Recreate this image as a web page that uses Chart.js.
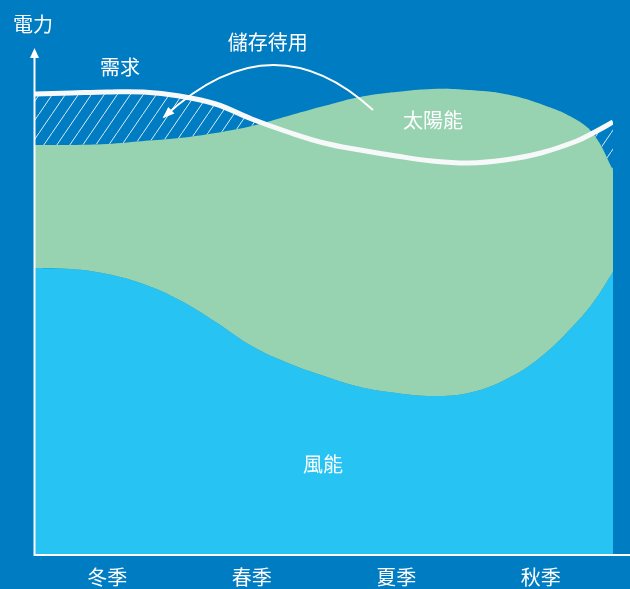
<!DOCTYPE html>
<html><head><meta charset="utf-8">
<script src="https://cdn.jsdelivr.net/npm/chart.js@4/dist/chart.umd.min.js"></script>
<style>html,body{margin:0;padding:0;background:#007cc3;overflow:hidden}#wrap{width:630px;height:589px}</style>
</head><body><div id="wrap"><canvas id="c" width="630" height="589"></canvas></div>
<script>
// categories (tick labels)
const seasons = ['冬季', '春季', '夏季', '秋季'];
// sample positions along the year (0 = start of winter, 4 = end of autumn)
const samplePos = [0, 0.25, 0.5, 0.75, 1, 1.25, 1.5, 1.75, 2, 2.25, 2.5, 2.75, 3, 3.25, 3.5, 3.75, 3.875, 4];
// series values (arbitrary power units)
const wind   = [287, 286, 281, 271, 255, 233, 209, 192, 179, 168, 162, 159, 162, 175, 198, 233, 255, 283];
const solar  = [123, 124, 130, 143, 162, 189, 220, 247, 270, 290, 301, 307, 303, 286, 253, 202, 164, 102];
const demand = [461, 462, 463, 463, 459, 451, 436, 423, 412, 405, 399, 394, 392, 395, 402, 414, 423, 433];

const FONT = '"Noto Sans CJK TC","Noto Sans CJK SC",sans-serif';
const BG = '#007cc3', WIND = '#27c4f3', SOLAR = '#97d3b0', WHITE = '#ffffff';

const supplyTop = wind.map((w, i) => w + solar[i]);
const pts = arr => arr.map((v, i) => ({x: samplePos[i], y: v}));

function hatch() {
  const w = 13, h = 19, c = document.createElement('canvas');
  c.width = w; c.height = h;
  const g = c.getContext('2d');
  g.strokeStyle = 'rgba(255,255,255,0.85)';
  g.lineWidth = 1;
  g.beginPath();
  g.moveTo(-w, 2 * h); g.lineTo(2 * w, -h);
  g.stroke();
  return g.createPattern(c, 'repeat');
}

// annotation anchors in data space [x, y]
const notes = [
  {text: '需求', at: [0.588, 488]},
  {text: '儲存待用', at: [1.61, 513]},
  {text: '太陽能', at: [2.754, 435]},
  {text: '風能', at: [1.993, 91]}
];
const storageArc = {from: [2.339, 445], peak: [1.626, 490], to: [0.893, 438]};

const decor = {
  id: 'decor',
  beforeDraw(chart) {
    const ctx = chart.ctx;
    ctx.save(); ctx.fillStyle = BG; ctx.fillRect(0, 0, chart.width, chart.height); ctx.restore();
  },
  afterDraw(chart) {
    const ctx = chart.ctx, a = chart.chartArea;
    const xs = chart.scales.x, ys = chart.scales.y;
    const P = p => [xs.getPixelForValue(p[0]), ys.getPixelForValue(p[1])];
    ctx.save();
    ctx.strokeStyle = WHITE; ctx.fillStyle = WHITE;
    // axes
    ctx.lineWidth = 2;
    ctx.beginPath();
    ctx.moveTo(a.left - 0.5, a.bottom);
    ctx.lineTo(a.left - 0.5, a.top + 12);
    ctx.moveTo(a.left - 1.5, a.bottom);
    ctx.lineTo(chart.width, a.bottom);
    ctx.stroke();
    ctx.beginPath();
    ctx.moveTo(a.left - 0.5, a.top + 3);
    ctx.lineTo(a.left - 5, a.top + 13);
    ctx.lineTo(a.left + 4, a.top + 13);
    ctx.closePath(); ctx.fill();
    // storage arrow
    const s = P(storageArc.from), pk = P(storageArc.peak), e = P(storageArc.to);
    const cx = 2 * pk[0] - (s[0] + e[0]) / 2, cy = 2 * pk[1] - (s[1] + e[1]) / 2;
    ctx.lineWidth = 2;
    ctx.beginPath(); ctx.moveTo(s[0], s[1]); ctx.quadraticCurveTo(cx, cy, e[0], e[1]); ctx.stroke();
    const ang = Math.atan2(e[1] - cy, e[0] - cx), L = 10, W = 4.5;
    ctx.beginPath();
    ctx.moveTo(e[0] + Math.cos(ang) * 2, e[1] + Math.sin(ang) * 2);
    ctx.lineTo(e[0] - Math.cos(ang) * L + Math.sin(ang) * W, e[1] - Math.sin(ang) * L - Math.cos(ang) * W);
    ctx.lineTo(e[0] - Math.cos(ang) * L - Math.sin(ang) * W, e[1] - Math.sin(ang) * L + Math.cos(ang) * W);
    ctx.closePath(); ctx.fill();
    // texts
    ctx.font = '20px ' + FONT;
    ctx.textAlign = 'center'; ctx.textBaseline = 'middle';
    notes.forEach(n => { const p = P(n.at); ctx.fillText(n.text, p[0], p[1]); });
    ctx.textAlign = 'left';
    ctx.fillText('電力', 13, a.top - 21);
    ctx.restore();
  }
};

new Chart(document.getElementById('c'), {
  type: 'line',
  data: {
    datasets: [
      {label: '風能', data: pts(wind), order: 3, fill: 'origin', backgroundColor: WIND, borderWidth: 0, pointRadius: 0, tension: 0.4},
      {label: '太陽能', data: pts(supplyTop), order: 2, fill: '-1', backgroundColor: SOLAR, borderWidth: 0, pointRadius: 0, tension: 0.4},
      {label: '需求', data: pts(demand), order: 1, fill: {target: 1, above: hatch(), below: 'rgba(0,0,0,0)'}, borderColor: '#f7f8fa', borderWidth: 5, pointRadius: 0, tension: 0.4}
    ]
  },
  options: {
    responsive: false, animation: false, devicePixelRatio: 1,
    layout: {padding: {left: 35, right: 17, top: 45, bottom: 0}},
    plugins: {legend: {display: false}, tooltip: {enabled: false}},
    scales: {
      x: {
        type: 'linear', min: 0, max: 4,
        afterBuildTicks: sc => { sc.ticks = seasons.map((_, i) => ({value: i + 0.5})); },
        afterFit: sc => { sc.height = 34; },
        ticks: {color: WHITE, font: {family: FONT, size: 20, lineHeight: 1.2}, padding: 10,
          autoSkip: false, maxRotation: 0,
          callback: v => seasons[Math.floor(v)]},
        grid: {display: false, drawTicks: false},
        border: {display: false}
      },
      y: {display: false, min: 0, max: 510}
    }
  },
  plugins: [decor]
});
</script>
</body></html>
